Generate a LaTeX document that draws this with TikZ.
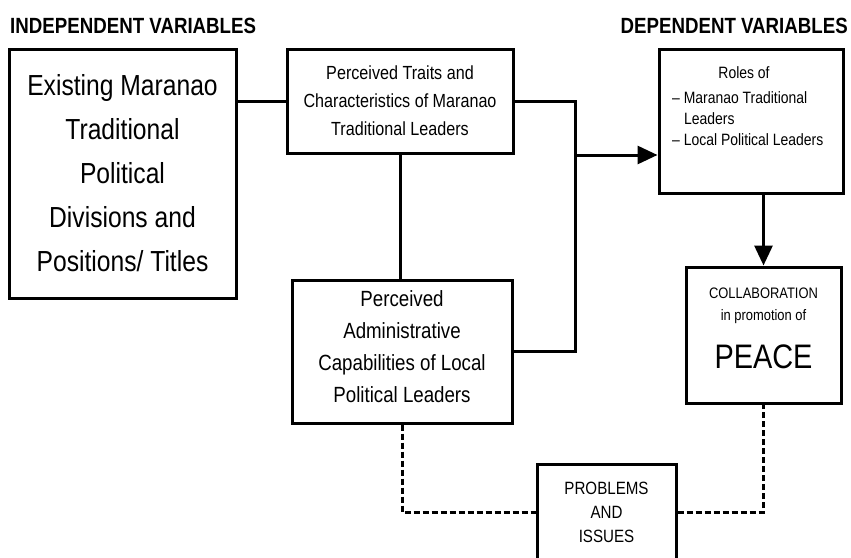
\documentclass[tikz,border=0pt]{standalone}
\usepackage{fontspec}
\setmainfont{Liberation Sans}[FakeStretch=0.85]
\usetikzlibrary{arrows.meta}
\begin{document}
\begin{tikzpicture}[x=1pt,y=-1pt,
 box/.style={draw, line width=3pt, inner sep=0pt, align=center},
 txt/.style={inner sep=0pt, align=center},
 conn/.style={line width=3pt},
 dconn/.style={line width=3pt, dash pattern=on 6pt off 3pt},
 arr/.style={-{Triangle[length=20pt,width=18pt]}},
 title/.style={inner sep=0pt, font=\bfseries\fontsize{22}{26}\selectfont}]
\useasboundingbox (0,0) rectangle (851,557);
\fill[white] (0,0) rectangle (851,557);
% titles
\node[title, anchor=base west] (indep) at (10,33) {INDEPENDENT VARIABLES};
\node[title, anchor=base east] (dep) at (848,33) {DEPENDENT VARIABLES};
% boxes
\node[box, minimum width=227pt, minimum height=249pt, font=\fontsize{29}{44}\selectfont] (A) at (122.5,173.5)
  {Existing Maranao\\Traditional\\Political\\Divisions and\\Positions/ Titles};
\node[box, minimum width=226pt, minimum height=104pt, font=\fontsize{19}{28}\selectfont] (B) at (400,101)
  {Perceived Traits and\\Characteristics of Maranao\\Traditional Leaders};
\node[box, minimum width=220pt, minimum height=143pt] (C) at (402,351.5) {};
\node[txt, font=\fontsize{22}{32}\selectfont] (Ctxt) at (402,347)
  {Perceived\\Administrative\\Capabilities of Local\\Political Leaders};
\node[box, minimum width=184pt, minimum height=144pt] (D) at (751,121) {};
\node[txt, anchor=base, font=\fontsize{16.4}{21}\selectfont] (Droles) at (744,78) {Roles of};
\node[txt, anchor=north west, align=left, font=\fontsize{16.4}{21}\selectfont] (Dlist) at (672,91)
  {– Maranao Traditional\\\hspace*{12pt}Leaders\\– Local Political Leaders};
\node[box, minimum width=155pt, minimum height=136pt] (E) at (763.5,335) {};
\node[txt, font=\fontsize{15.2}{22}\selectfont] (Etxt) at (763.5,306) {COLLABORATION\\in promotion of};
\node[txt, font=\fontsize{34}{34}\selectfont] (Epeace) at (763.5,357) {PEACE};
\node[box, minimum width=139pt, minimum height=96pt, font=\fontsize{17.8}{24}\selectfont] (F) at (606.5,512)
  {PROBLEMS\\AND\\ISSUES};
% connectors
\coordinate (J) at (575,155);
\draw[conn] (A.east |- B.west) -- (B.west);
\draw[conn] (B.south) -- (B.south |- C.north);
\draw[conn] (B.east) -| (J) |- (C.east);
\draw[conn, arr] (J) -- (D.west |- J);
\draw[conn, arr] (E.north |- D.south) -- (E.north);
\draw[dconn] (C.south) |- (F.west);
\draw[dconn] (F.east) -| (E.south);
\end{tikzpicture}
\end{document}
